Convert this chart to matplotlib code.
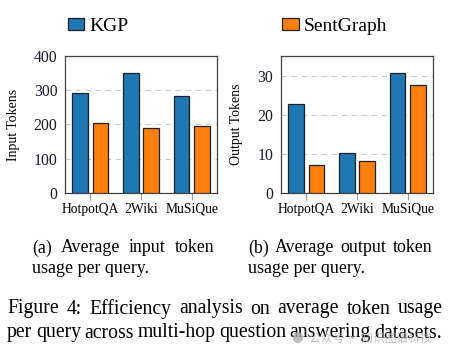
import matplotlib
matplotlib.use("Agg")
import matplotlib.pyplot as plt
import numpy as np
from matplotlib.patches import Patch

categories = ["HotpotQA", "2Wiki", "MuSiQue"]
kgp_input = [292, 349, 283]
sent_input = [205, 191, 197]
kgp_output = [22.8, 10.3, 30.7]
sent_output = [7.1, 8.3, 27.7]

BLUE = "#1f77b4"
ORANGE = "#ff7f0e"
SPINE = "#404040"

plt.rcParams["font.family"] = ["Liberation Serif", "DejaVu Serif"]

W, H = 468, 357
fig = plt.figure(figsize=(W / 100, H / 100), dpi=100)


def ax_rect(x0, y0, x1, y1):
    return [x0 / W, 1 - y1 / H, (x1 - x0) / W, (y1 - y0) / H]


def style(ax, ymax, yticks, ylabel, labelx):
    x = np.arange(len(categories))
    ax.set_xlim(-0.5, len(categories) - 0.5)
    ax.set_ylim(0, ymax)
    ax.set_yticks(yticks)
    ax.set_xticks(x)
    ax.set_xticklabels(categories, fontsize=9.8)
    ax.tick_params(axis="y", length=0, pad=5.5, labelsize=11.3, labelcolor="#1a1a33")
    ax.tick_params(axis="x", length=5, width=0.8, color="#999999", pad=2,
                   direction="out")
    for s in ax.spines.values():
        s.set_color(SPINE)
        s.set_linewidth(0.9)
    ax.yaxis.grid(True, linestyle=(0, (5, 4)), color="#cccccc", linewidth=0.8)
    ax.set_axisbelow(True)
    ax.set_ylabel(ylabel, fontsize=10)
    ax.yaxis.set_label_coords(labelx, 0.5)


def bars(ax, a, b):
    x = np.arange(len(categories))
    w = 0.31
    ax.bar(x - 0.2, a, w, color=BLUE, edgecolor="#202020", linewidth=0.9, zorder=3)
    ax.bar(x + 0.2, b, w, color=ORANGE, edgecolor="#202020", linewidth=0.9, zorder=3)


ax1 = fig.add_axes(ax_rect(65, 56, 217, 193))
bars(ax1, kgp_input, sent_input)
style(ax1, 400, [0, 100, 200, 300, 400], "Input Tokens", (20 - 65) / 152)

ax2 = fig.add_axes(ax_rect(281, 56, 433, 193))
bars(ax2, kgp_output, sent_output)
style(ax2, 35, [0, 10, 20, 30], "Output Tokens", (243 - 281) / 152)

# legends
for label, color, x in (("KGP", BLUE, 67.5), ("SentGraph", ORANGE, 282)):
    fig.legend(handles=[Patch(facecolor=color, edgecolor="#202020", linewidth=0.9, label=label)],
               loc="center left", bbox_to_anchor=(x / W, 1 - 26.5 / H),
               frameon=False, fontsize=14, borderpad=0, borderaxespad=0,
               handlelength=0.87, handleheight=0.6, handletextpad=0.25)

renderer = fig.canvas.get_renderer()


def justify(words, x0, x1, yc, size):
    texts = [fig.text(0, 1 - yc / H, w, fontsize=size, va="center", ha="left") for w in words]
    widths = [t.get_window_extent(renderer).width for t in texts]
    gap = (x1 - x0 - sum(widths)) / max(len(words) - 1, 1)
    x = x0
    for t, wd in zip(texts, widths):
        t.set_x(x / W)
        x += wd + gap


def plain(s, x0, yc, size):
    fig.text(x0 / W, 1 - yc / H, s, fontsize=size, va="center", ha="left")


justify(["(a)", "Average", "input", "token"], 32, 214, 248, 12.9)
plain("usage per query.", 32, 268.5, 12.9)
justify(["(b)", "Average", "output", "token"], 248, 432, 248, 12.9)
plain("usage per query.", 248, 268.5, 12.9)

justify("Figure 4: Efficiency analysis on average token usage".split(), 7, 443, 309, 14.2)
justify("per query across multi-hop question answering datasets.".split(), 7, 442, 333, 14.2)

# watermark
fig.text(292 / W, 1 - 338 / H, "●  公众号 · 知识图谱科技", fontsize=8.5, color="#b0b0b0", alpha=0.8,
         family=["Noto Sans CJK SC", "DejaVu Sans"], va="center", ha="left")

fig.savefig("out.png", dpi=100)
